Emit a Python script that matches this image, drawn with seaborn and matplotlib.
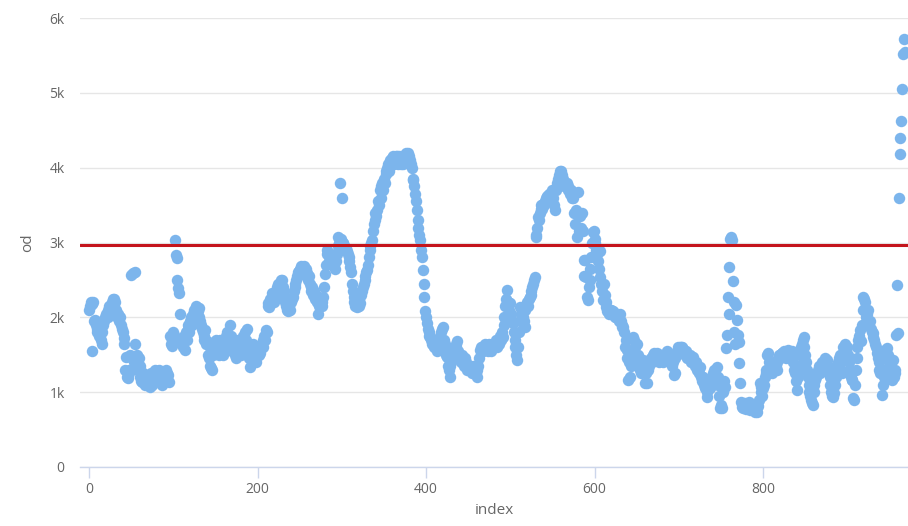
import matplotlib
matplotlib.use("Agg")
import matplotlib.pyplot as plt
import seaborn as sns
import pandas as pd
from matplotlib.ticker import FixedLocator, FuncFormatter

od_values = [
    2100, 2150, 2200, 1550, 2180, 2200, 1950, 1960, 1900, 1850,
    1800, 1900, 1750, 1780, 1700, 1650, 1800, 1900, 1950, 2000,
    2050, 2050, 2100, 2000, 2150, 2100, 2050, 2200, 2150, 2250,
    2250, 2200, 2100, 2000, 2050, 1950, 2000, 2000, 1900, 1850,
    1800, 1730, 1650, 1290, 1470, 1200, 1190, 1300, 1250, 1500,
    2570, 1450, 2590, 1400, 2600, 1650, 1430, 1500, 1300, 1450,
    1350, 1200, 1150, 1140, 1250, 1200, 1100, 1150, 1200, 1100,
    1090, 1150, 1070, 1200, 1250, 1100, 1150, 1200, 1300, 1250,
    1200, 1150, 1250, 1300, 1200, 1250, 1150, 1100, 1200, 1250,
    1250, 1300, 1250, 1200, 1230, 1140, 1750, 1650, 1620, 1700,
    1800, 1760, 3030, 2830, 2790, 2500, 2390, 2320, 2050, 1700,
    1650, 1600, 1700, 1750, 1560, 1800, 1700, 1850, 1900, 1800,
    1950, 2000, 1900, 2050, 1920, 2100, 2050, 2150, 2000, 2090,
    2120, 2000, 1950, 1900, 1850, 1800, 1700, 1750, 1830, 1650,
    1690, 1500, 1450, 1600, 1350, 1320, 1290, 1500, 1600, 1550,
    1650, 1700, 1550, 1600, 1500, 1650, 1700, 1600, 1550, 1500,
    1600, 1700, 1650, 1750, 1800, 1650, 1700, 1900, 1750, 1600,
    1550, 1650, 1600, 1500, 1450, 1550, 1600, 1700, 1650, 1550,
    1500, 1600, 1700, 1750, 1650, 1800, 1700, 1850, 1600, 1500,
    1450, 1340, 1500, 1600, 1550, 1650, 1500, 1450, 1400, 1550,
    1600, 1550, 1500, 1520, 1600, 1650, 1700, 1600, 1750, 1700,
    1830, 1800, 2190, 2150, 2140, 2250, 2200, 2320, 2300, 2250,
    2200, 2300, 2350, 2400, 2450, 2400, 2350, 2450, 2500, 2500,
    2400, 2350, 2270, 2200, 2150, 2100, 2090, 2150, 2200, 2100,
    2200, 2250, 2270, 2350, 2400, 2450, 2500, 2550, 2600, 2620,
    2650, 2600, 2680, 2650, 2620, 2680, 2600, 2650, 2550, 2590,
    2500, 2550, 2450, 2400, 2350, 2400, 2300, 2350, 2250, 2300,
    2200, 2230, 2050, 2150, 2200, 2250, 2150, 2200, 2270, 2400,
    2580, 2700, 2850, 2900, 2850, 2750, 2800, 2850, 2800, 2750,
    2790, 2700, 2650, 2750, 2850, 2950, 3070, 3000, 3790, 3050,
    3590, 2990, 2990, 2950, 2900, 2920, 2890, 2850, 2800, 2750,
    2670, 2600, 2450, 2350, 2270, 2200, 2150, 2250, 2140, 2200,
    2150, 2250, 2190, 2300, 2350, 2400, 2450, 2500, 2550, 2600,
    2630, 2700, 2800, 2900, 2950, 3000, 3030, 3150, 3250, 3300,
    3400, 3350, 3430, 3560, 3500, 3700, 3600, 3750, 3800, 3700,
    3850, 3800, 3920, 3950, 4000, 4050, 3950, 4100, 4050, 4130,
    4100, 4150, 4050, 4100, 4150, 4160, 4100, 4050, 4150, 4100,
    4050, 4100, 4150, 4050, 4100, 4150, 4200, 4100, 4150, 4190,
    4150, 4100, 4050, 4000, 3830, 3850, 3750, 3650, 3550, 3430,
    3300, 3200, 3100, 3030, 2900, 2800, 2630, 2450, 2270, 2090,
    2000, 1920, 1850, 1800, 1750, 1740, 1700, 1650, 1700, 1650,
    1600, 1600, 1650, 1550, 1600, 1700, 1650, 1750, 1800, 1850,
    1870, 1700, 1650, 1550, 1500, 1470, 1350, 1300, 1200, 1350,
    1400, 1500, 1450, 1550, 1600, 1650, 1600, 1690, 1550, 1500,
    1470, 1400, 1450, 1500, 1400, 1350, 1450, 1400, 1350, 1300,
    1350, 1300, 1340, 1300, 1250, 1300, 1350, 1250, 1300, 1250,
    1200, 1300, 1350, 1450, 1560, 1600, 1550, 1600, 1550, 1600,
    1650, 1600, 1600, 1550, 1600, 1650, 1600, 1550, 1600, 1650,
    1600, 1650, 1600, 1700, 1600, 1650, 1700, 1650, 1750, 1700,
    1800, 1740, 1900, 2000, 2150, 2250, 2360, 2200, 2100, 2000,
    2190, 2050, 1950, 1920, 1800, 1700, 1600, 1500, 1430, 1600,
    1800, 1950, 2140, 2050, 2100, 2000, 1950, 1870, 2100, 2150,
    2200, 2150, 2250, 2270, 2300, 2350, 2400, 2450, 2500, 2540,
    3070, 3100, 3200, 3340, 3300, 3400, 3450, 3500, 3450, 3520,
    3500, 3550, 3600, 3550, 3620, 3600, 3650, 3650, 3600, 3700,
    3650, 3600, 3500, 3430, 3700, 3740, 3800, 3850, 3900, 3950,
    3960, 3900, 3850, 3800, 3750, 3800, 3750, 3790, 3700, 3750,
    3700, 3650, 3700, 3600, 3650, 3600, 3390, 3250, 3430, 3070,
    3670, 3160, 3400, 3350, 3200, 3390, 3160, 2760, 2550, 2760,
    2540, 2270, 2230, 2400, 2500, 2650, 2800, 3000, 3140, 3160,
    3050, 2990, 2900, 2850, 2750, 2650, 2890, 2540, 2450, 2350,
    2230, 2450, 2300, 2200, 2140, 2090, 2100, 2050, 2100, 2050,
    2100, 2050, 2080, 2050, 2000, 2050, 2000, 2050, 2020, 1950,
    2050, 1950, 1900, 1870, 1870, 1800, 1600, 1700, 1560, 1450,
    1160, 1400, 1200, 1350, 1450, 1500, 1740, 1700, 1600, 1650,
    1650, 1500, 1400, 1350, 1300, 1250, 1400, 1350, 1430, 1300,
    1120, 1250, 1120, 1300, 1400, 1350, 1400, 1450, 1400, 1500,
    1520, 1500, 1450, 1500, 1520, 1450, 1500, 1400, 1500, 1450,
    1500, 1400, 1450, 1500, 1450, 1500, 1550, 1500, 1450, 1400,
    1450, 1500, 1350, 1400, 1230, 1450, 1250, 1500, 1550, 1600,
    1550, 1600, 1600, 1550, 1600, 1580, 1550, 1500, 1550, 1500,
    1450, 1500, 1450, 1500, 1450, 1400, 1450, 1470, 1400, 1350,
    1400, 1300, 1350, 1300, 1250, 1340, 1200, 1150, 1200, 1200,
    1100, 1050, 1150, 930, 1000, 1100, 1150, 1050, 1100, 1200,
    1250, 1200, 1300, 1250, 1150, 1340, 1200, 1100, 950, 790,
    830, 790, 1000, 1070, 1150, 1070, 1590, 1760, 2270, 2050,
    2670, 3050, 3070, 3030, 2490, 2200, 1800, 1650, 2160, 1960,
    1760, 1670, 1390, 1120, 870, 800, 790, 820, 850, 800,
    780, 790, 830, 870, 760, 800, 790, 820, 770, 800,
    800, 740, 780, 740, 820, 900, 1120, 1070, 1000, 950,
    1050, 1100, 1200, 1250, 1300, 1490, 1520, 1400, 1350, 1300,
    1290, 1250, 1300, 1350, 1400, 1350, 1300, 1400, 1450, 1500,
    1450, 1500, 1520, 1520, 1480, 1550, 1500, 1450, 1500, 1550,
    1560, 1500, 1450, 1500, 1550, 1500, 1400, 1300, 1250, 1150,
    1030, 1250, 1200, 1350, 1500, 1600, 1650, 1700, 1740, 1600,
    1500, 1400, 1300, 1200, 1100, 1000, 950, 900, 850, 830,
    1000, 1100, 1160, 1200, 1250, 1300, 1350, 1250, 1300, 1350,
    1400, 1350, 1300, 1400, 1450, 1400, 1430, 1350, 1300, 1200,
    1100, 1000, 950, 930, 990, 1100, 1200, 1300, 1350, 1400,
    1450, 1500, 1400, 1300, 1250, 1600, 1550, 1650, 1500, 1550,
    1600, 1500, 1400, 1300, 1200, 1160, 1160, 920, 890, 1100,
    1300, 1450, 1600, 1700, 1750, 1830, 1690, 1900, 2270, 2100,
    2250, 2200, 2000, 2050, 2100, 1950, 1900, 1950, 1850, 1800,
    1790, 1740, 1700, 1650, 1600, 1520, 1450, 1400, 1300, 1250,
    1290, 960, 1100, 1200, 1300, 1560, 1450, 1590, 1500, 1400,
    1300, 1250, 1200, 1160, 1430, 1200, 1300, 1250, 1760, 2430,
    1790, 3590, 4180, 4390, 4630, 5050, 5520, 5720, 5540,
]
threshold = 2960
y_ticks = [0, 1000, 2000, 3000, 4000, 5000, 6000]
y_tick_labels = ["0", "1k", "2k", "3k", "4k", "5k", "6k"]
x_ticks = [0, 200, 400, 600, 800]

df = pd.DataFrame({"index": list(range(len(od_values))), "od": od_values})

sns.set_style("white")
plt.rcParams["font.family"] = ["Open Sans", "DejaVu Sans"]

fig = plt.figure(figsize=(9.08, 5.26), dpi=100)
ax = fig.add_axes([80 / 908, 1 - 467 / 526, 828 / 908, (467 - 18) / 526])

sns.scatterplot(data=df, x="index", y="od", ax=ax, color="#7cb5ec",
                s=68, linewidth=0, alpha=1, zorder=2, clip_on=False)
ax.axhline(threshold, color="#c4141c", lw=2.2, zorder=3)

ax.set_xlim(-10.7, 972)
ax.set_ylim(0, 6000)
ax.yaxis.set_major_locator(FixedLocator(y_ticks))
ax.yaxis.set_major_formatter(FuncFormatter(lambda v, p: y_tick_labels[y_ticks.index(int(v))] if int(v) in y_ticks else ""))
ax.xaxis.set_major_locator(FixedLocator(x_ticks))
ax.grid(axis="y", color="#e6e6e6", lw=1, zorder=0)
ax.grid(axis="x", visible=False)
for side in ["left", "right", "top"]:
    ax.spines[side].set_visible(False)
ax.spines["bottom"].set_color("#ccd6eb")
ax.spines["bottom"].set_linewidth(1)
ax.spines["bottom"].set_zorder(1)
ax.tick_params(axis="x", length=8, width=1, color="#ccd6eb", labelcolor="#666666",
               labelsize=10, pad=3, direction="out", bottom=True)
ax.tick_params(axis="y", length=0, labelcolor="#666666", labelsize=10, pad=11)
ax.set_xlabel("index", color="#666666", fontsize=11, labelpad=4)
ax.set_ylabel("od", color="#666666", fontsize=11, labelpad=10)

fig.savefig("out.png", dpi=100)
